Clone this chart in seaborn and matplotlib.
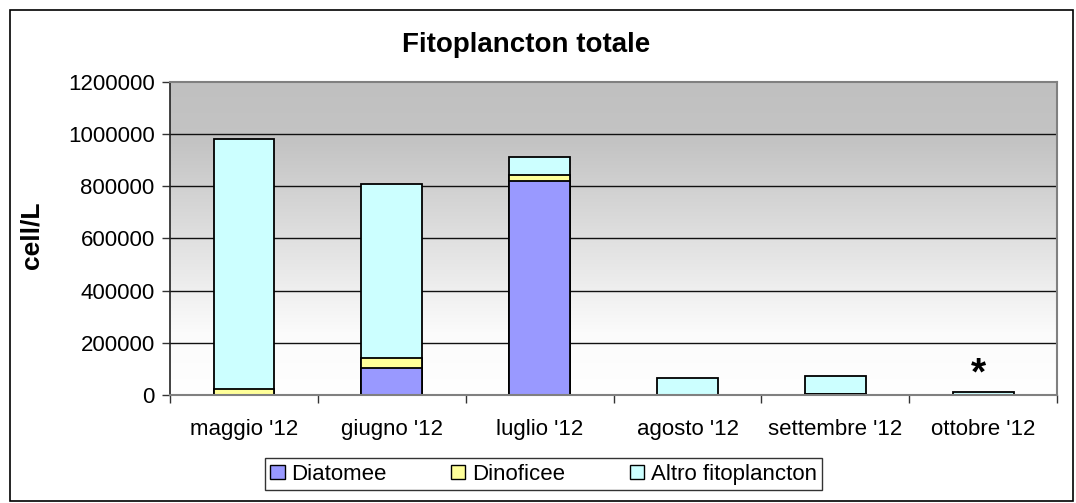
import numpy as np
import pandas as pd
import matplotlib
matplotlib.use("Agg")
import matplotlib.pyplot as plt
import seaborn as sns
from matplotlib.patches import Patch, Rectangle

categories = ["maggio '12", "giugno '12", "luglio '12", "agosto '12", "settembre '12", "ottobre '12"]
diatomee = [0, 105000, 820000, 0, 3000, 0]
dinoficee = [23000, 35000, 23000, 0, 2000, 0]
altro = [958000, 670000, 68000, 64000, 68000, 12000]
series_names = ["Diatomee", "Dinoficee", "Altro fitoplancton"]
colors = ["#9999ff", "#ffff99", "#ccffff"]
yticks = [0, 200000, 400000, 600000, 800000, 1000000, 1200000]

sns.set_theme(style="white")
plt.rcParams["font.family"] = ["Liberation Sans", "DejaVu Sans"]
plt.rcParams["text.color"] = "black"
plt.rcParams["axes.labelcolor"] = "black"
plt.rcParams["xtick.color"] = "black"
plt.rcParams["ytick.color"] = "black"

fig = plt.figure(figsize=(10.76, 5.03), dpi=100)
ax = fig.add_axes([0.158, 0.2147, 0.8245, 0.6229])

df = pd.DataFrame({"cat": categories,
                   "d": diatomee, "n": dinoficee, "a": altro})
df["dn"] = df["d"] + df["n"]
df["tot"] = df["dn"] + df["a"]

# gradient background
grad = np.linspace(0, 1, 256).reshape(-1, 1)
cmap = matplotlib.colors.LinearSegmentedColormap.from_list(
    "g", [(0, "#ffffff"), (0.2, "#fbfbfb"), (0.8, "#c4c4c4"), (1, "#c0c0c0")])
ax.imshow(grad, cmap=cmap, aspect="auto", origin="lower",
          extent=[-0.5, 5.5, 0, 1200000], zorder=0)

for y in yticks[1:-1]:
    ax.axhline(y, color="#111111", lw=1.0, zorder=1)

bw = 0.41
for col, c in zip(["tot", "dn", "d"], [colors[2], colors[1], colors[0]]):
    sns.barplot(data=df, x="cat", y=col, color=c, width=bw, edgecolor="black",
                linewidth=1.3, saturation=1, ax=ax, zorder=3)

ax.set_xlim(-0.5, 5.5)
ax.set_ylim(0, 1200000)
ax.set_yticks(yticks)
ax.set_yticklabels([str(v) for v in yticks], fontsize=16)
ax.set_xticks(range(len(categories)))
ax.set_xticklabels(categories, fontsize=16)
ax.set_xticks(np.arange(-0.5, 6.0, 1.0), minor=True)
ax.tick_params(axis="x", which="major", length=0, pad=17)
ax.tick_params(axis="x", which="minor", length=6, width=1, color="#333333", direction="out", bottom=True)
ax.tick_params(axis="y", which="major", length=6, width=1, color="#333333", direction="out", left=True, pad=5)
ax.set_xlabel("")
ax.set_ylabel("cell/L", fontsize=19, fontweight="bold")
ax.yaxis.set_label_coords(-0.143, 0.51)
fig.text(0.489, 0.91, "Fitoplancton totale", ha="center", va="center",
         fontsize=20, fontweight="bold")

for s in ["top", "right", "bottom"]:
    ax.spines[s].set_color("#808080")
    ax.spines[s].set_linewidth(1.5)
ax.spines["left"].set_color("#222222")
ax.spines["left"].set_linewidth(1.2)
for s in ax.spines.values():
    s.set_zorder(5)

ax.text(4.97, 80000, "*", ha="center", va="center", fontsize=28, fontweight="bold", zorder=6)

handles = [Patch(facecolor=c, edgecolor="black", linewidth=1.0, label=n) for c, n in zip(colors, series_names)]
leg = fig.legend(handles=handles, loc="center", bbox_to_anchor=(0.505, 0.057), ncol=3,
                 fontsize=16, frameon=True, fancybox=False, edgecolor="black",
                 handlelength=0.65, handleheight=0.65, handletextpad=0.3, columnspacing=2.9,
                 borderpad=0.25, borderaxespad=0)
leg.get_frame().set_linewidth(1.0)

fig.patches.append(Rectangle((0.0093, 0.004), 0.988, 0.976, transform=fig.transFigure,
                             fill=False, edgecolor="black", linewidth=1.2))

fig.savefig("out.png", dpi=100)
